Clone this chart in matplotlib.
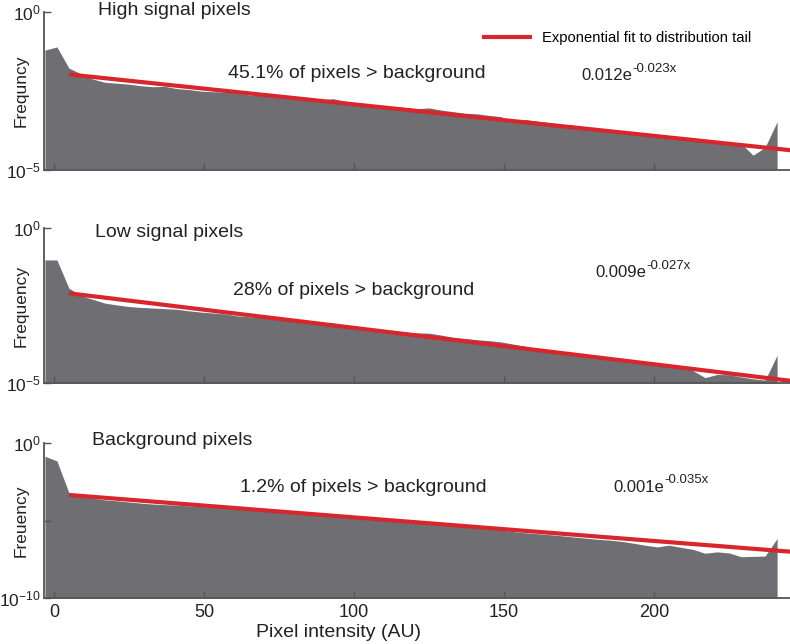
import numpy as np
import matplotlib
matplotlib.use("Agg")
import matplotlib.pyplot as plt

plt.rcParams['font.family'] = ['Liberation Sans', 'DejaVu Sans']
plt.rcParams['mathtext.fontset'] = 'custom'
plt.rcParams['mathtext.rm'] = 'Liberation Sans'

# histogram bin positions (pixel intensity)
intensity = np.arange(-3, 242, 4)

# log10 of frequency
high_log = [-1.20, -1.10, -1.77, -1.95, -2.12, -2.22, -2.25, -2.28, -2.33, -2.36,
            -2.35, -2.42, -2.45, -2.50, -2.52, -2.53, -2.56, -2.62, -2.64, -2.67,
            -2.70, -2.73, -2.77, -2.78, -2.74, -2.82, -2.88, -2.92, -2.97, -3.00,
            -3.02, -3.06, -3.03, -3.10, -3.15, -3.20, -3.22, -3.27, -3.31, -3.49,
            -3.40, -3.45, -3.50, -3.55, -3.58, -3.63, -3.70, -3.76, -3.80, -3.86,
            -3.92, -3.95, -3.98, -4.02, -4.07, -4.10, -4.14, -4.17, -4.16, -4.53,
            -4.28, -3.47]
low_log = [-1.03, -1.03, -1.94, -2.18, -2.30, -2.42, -2.48, -2.53, -2.56, -2.58,
           -2.60, -2.62, -2.67, -2.71, -2.74, -2.77, -2.83, -2.86, -2.88, -2.92,
           -2.95, -2.99, -3.02, -3.04, -3.06, -3.13, -3.18, -3.23, -3.27, -3.31,
           -3.35, -3.38, -3.39, -3.45, -3.52, -3.56, -3.60, -3.63, -3.67, -3.74,
           -3.81, -3.88, -3.94, -3.98, -4.03, -4.09, -4.14, -4.19, -4.24, -4.30,
           -4.35, -4.40, -4.44, -4.48, -4.60, -4.82, -4.72, -4.73, -4.80, -4.86,
           -4.90, -4.10]
bg_log = [-0.85, -1.15, -3.20, -3.42, -3.55, -3.66, -3.72, -3.80, -3.87, -3.93,
          -3.97, -4.00, -4.05, -4.09, -4.14, -4.20, -4.26, -4.32, -4.38, -4.43,
          -4.49, -4.54, -4.58, -4.63, -4.68, -4.74, -4.81, -4.87, -4.93, -5.00,
          -5.07, -5.10, -5.06, -5.17, -5.25, -5.33, -5.42, -5.50, -5.59, -5.70,
          -5.78, -5.84, -5.90, -5.97, -6.05, -6.12, -6.20, -6.25, -6.33, -6.45,
          -6.58, -6.69, -6.58, -6.72, -6.85, -7.10, -7.01, -7.08, -7.32, -7.30,
          -7.28, -6.15]

titles = ['High signal pixels', 'Low signal pixels', 'Background pixels']
ylabels = ['Frequncy', 'Frequency', 'Freuency']
percents = ['45.1% of pixels > background', '28% of pixels > background',
            '1.2% of pixels > background']
fit_amp = [0.012, 0.009, 0.00054]
fit_rate = [0.023, 0.027, 0.035]
fit_base = ['0.012e', '0.009e', '0.001e']
fit_exp = ['-0.023x', '-0.027x', '-0.035x']
ymins = [1e-5, 1e-5, 1e-10]

gray = '#6e6e73'
red = '#d8262c'
spine_c = '#555555'
txt_c = '#222222'

fig = plt.figure(figsize=(7.9, 6.44), dpi=100)
boxes = [[0.0557, 0.736, 0.9443, 0.245],
         [0.0557, 0.405, 0.9443, 0.241],
         [0.0557, 0.071, 0.9443, 0.241]]
title_pos = [(0.072, 1.013), (0.068, 0.974), (0.065, 1.019)]
pct_pos = [(0.247, 0.614), (0.253, 0.60), (0.263, 0.716)]
eq_pos = [(0.721, 0.60), (0.739, 0.71), (0.763, 0.716)]

datas = [high_log, low_log, bg_log]
fit_x = np.linspace(5, 246, 60)
for i in range(3):
    ax = fig.add_axes(boxes[i])
    vals = 10 ** np.array(datas[i])
    ax.fill_between(intensity, vals, ymins[i], color=gray, lw=0)
    line, = ax.plot(fit_x, fit_amp[i] * np.exp(-fit_rate[i] * fit_x), color=red, lw=3,
                    solid_capstyle='butt', label='Exponential fit to distribution tail')
    ax.set_yscale('log')
    ax.set_ylim(ymins[i], 1)
    ax.set_xlim(-3.3, 245.3)
    if i == 2:
        ax.set_yticks([1e-10, 1e-5, 1])
        ax.set_yticklabels([r'$\mathregular{10^{-10}}$', '', r'$\mathregular{10^{0}}$'])
    else:
        ax.set_yticks([1e-5, 1])
        ax.set_yticklabels([r'$\mathregular{10^{-5}}$', r'$\mathregular{10^{0}}$'])
    ax.minorticks_off()
    ax.set_xticks([0, 50, 100, 150, 200])
    if i < 2:
        ax.set_xticklabels([])
    else:
        ax.set_xlabel('Pixel intensity (AU)', fontsize=14, color=txt_c)
        ax.xaxis.set_label_coords(0.395, -0.165)
    ax.tick_params(direction='in', length=5, width=1, colors=spine_c, labelcolor=txt_c,
                   labelsize=13, pad=4)
    ax.tick_params(axis='y', labelsize=12.5, pad=2)
    for s in ['top', 'right']:
        ax.spines[s].set_visible(False)
    for s in ['left', 'bottom']:
        ax.spines[s].set_color(spine_c)
        ax.spines[s].set_linewidth(1.3)
    ax.set_ylabel(ylabels[i], fontsize=12.5, color=txt_c)
    ax.yaxis.set_label_coords(-0.021, 0.5)
    ax.text(*title_pos[i], titles[i], transform=ax.transAxes, fontsize=14,
            va='center', ha='left', color=txt_c)
    ax.text(*pct_pos[i], percents[i], transform=ax.transAxes, fontsize=14,
            va='center', ha='left', color=txt_c)
    base = ax.text(*eq_pos[i], fit_base[i], transform=ax.transAxes, fontsize=12,
                   va='center', ha='left', color=txt_c)
    ax.annotate(fit_exp[i], xy=(1.0, 0.95), xycoords=base, fontsize=9.5,
                va='center', ha='left', color=txt_c)
    if i == 0:
        fig.legend(handles=[line], loc='center left', bbox_to_anchor=(0.610, 0.941),
                   bbox_transform=fig.transFigure, frameon=False, fontsize=10.6,
                   handlelength=3.4, handletextpad=0.7, borderpad=0, borderaxespad=0)

fig.savefig('out.png', dpi=100)
